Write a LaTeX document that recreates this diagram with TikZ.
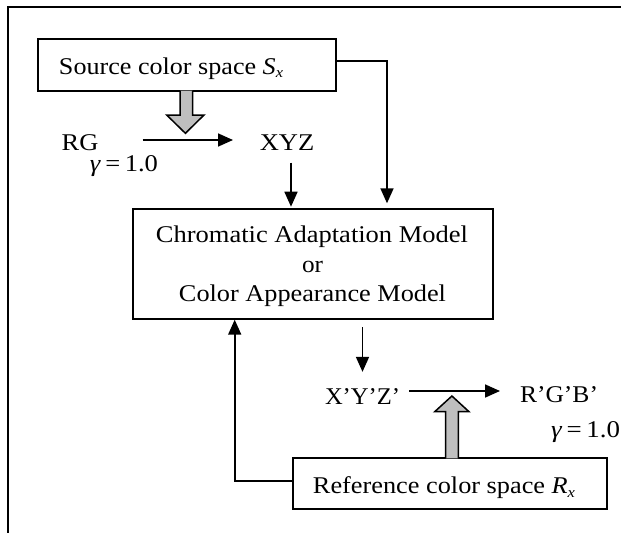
\documentclass[tikz,border=0pt]{standalone}
\usepackage{fontspec}
\usepackage{graphicx}
\setmainfont{Liberation Serif}
\usetikzlibrary{arrows.meta}
\tikzset{
  boxnode/.style={draw, line width=2pt, inner sep=0pt},
  lbl/.style={inner sep=0pt, anchor=base, font=\fontsize{24}{28}\selectfont},
  arr/.style={line width=1.7pt, -{Triangle[length=15pt,width=13pt]}},
  blockarrow/.style={draw, line width=1.5pt, fill=black!25, line join=miter}
}
\newcommand{\wtext}[2]{\resizebox{#1}{\height}{#2}}
\newcommand{\subx}[2]{\textit{#1}\raisebox{-0.35ex}{\fontsize{15}{15}\selectfont\itshape #2}}
\begin{document}
\begin{tikzpicture}[x=1pt,y=-1pt]
\useasboundingbox (0,0) rectangle (621,533);
% frame
\draw[line width=1.8pt] (621,7) -- (8.3,7) -- (8.3,533);
% boxes
\node[boxnode, minimum width=298pt, minimum height=51.4pt] (src) at (187.3,65) {};
\node[boxnode, minimum width=360.3pt, minimum height=109.7pt] (cam) at (312.85,263.85) {};
\node[boxnode, minimum width=313.7pt, minimum height=51pt] (ref) at (449.85,483.8) {};
% texts
\node[lbl] (srct) at (171,74) {\wtext{224pt}{Source color space \subx{S}{x}}};
\node[lbl] (cam1) at (312,242) {\wtext{312pt}{Chromatic Adaptation Model}};
\node[lbl] (cam2) at (312.5,272) {\wtext{21pt}{or}};
\node[lbl] (cam3) at (312.5,301) {\wtext{267pt}{Color Appearance Model}};
\node[lbl] (reft) at (444,493.3) {\wtext{262pt}{Reference color space \subx{R}{x}}};
\node[lbl] (rg) at (80,150.7) {\wtext{36.7pt}{RG}};
\node[lbl] (xyz) at (287,150.7) {\wtext{54.5pt}{XYZ}};
\node[lbl] (g1) at (124,171) {\wtext{68pt}{\textit{γ}\,=\,1.0}};
\node[lbl] (xyzp) at (362.5,404) {\wtext{75pt}{X’Y’Z’}};
\node[lbl] (rgbp) at (559,402) {\wtext{78pt}{R’G’B’}};
\node[lbl] (g2) at (585.5,437) {\wtext{69pt}{\textit{γ}\,=\,1.0}};
% coordinates
\coordinate (h1) at (142.7,140);
\coordinate (h2) at (233,140);
\coordinate (a1) at (387,203.3);
\coordinate (v1) at (291,162.7);
\coordinate (v2) at (291,206.7);
\coordinate (bend) at (234.7,481);
\coordinate (k1) at (409,391);
\coordinate (k2) at (500,391);
% connectors
\draw[arr] (h1) -- (h2);
\draw[arr] ([yshift=4pt]src.east) -| (a1);
\draw[arr] (v1) -- (v2);
\draw[arr, shorten <=7.3pt, shorten >=16pt] (cam.south -| xyzp.north) -- (xyzp.north);
\draw[arr] (ref.west |- bend) -- (bend) -- (bend |- cam.south);
\draw[arr] (k1) -- (k2);
% block arrows
\draw[blockarrow] (180,90.7) -- (180,115) -- (166.7,115) -- (185.4,133.3) -- (204,115) -- (192.7,115) -- (192.7,90.7);
\draw[blockarrow] (445.7,458.3) -- (445.7,411.7) -- (434.7,411.7) -- (451.9,396) -- (469,411.7) -- (458.3,411.7) -- (458.3,458.3);
\end{tikzpicture}
\end{document}
